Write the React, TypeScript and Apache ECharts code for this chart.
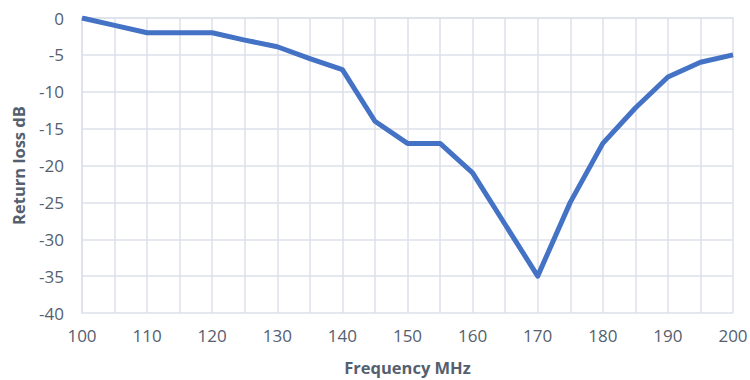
import React, { useEffect, useRef } from "react";
import * as echarts from "echarts";

const frequencies = [100, 105, 110, 115, 120, 125, 130, 135, 140, 145, 150, 155, 160, 165, 170, 175, 180, 185, 190, 195, 200];
const returnLoss = [0, -1, -2, -2, -2, -3, -3.9, -5.5, -7, -14, -17, -17, -21, -28, -35, -25, -17, -12.2, -8, -6, -5];

const xTitle = "Frequency MHz";
const yTitle = "Return loss dB";

export default function App() {
  const ref = useRef<HTMLDivElement>(null);
  useEffect(() => {
    if (!ref.current) return;
    const chart = echarts.init(ref.current, null, { renderer: "svg" });
    const labelColor = "#55606f";
    const gridColor = "#dde1ea";
    chart.setOption({
      animation: false,
      grid: { left: 82, right: 17, top: 18, bottom: 67, outerBoundsMode: "none", containLabel: false },
      xAxis: {
        type: "value",
        min: 100,
        max: 200,
        interval: 5,
        name: xTitle,
        nameLocation: "middle",
        nameGap: 46,
        nameTextStyle: { color: labelColor, fontWeight: "bold", fontSize: 16.5, fontFamily: "Open Sans" },
        axisLine: { show: true, lineStyle: { color: gridColor, width: 1.5 } },
        axisTick: { show: false },
        axisLabel: {
          color: labelColor,
          fontSize: 17,
          fontFamily: "Open Sans",
          margin: 14,
          formatter: (v: number) => (v % 10 === 0 ? String(v) : ""),
        },
        splitLine: { show: true, lineStyle: { color: gridColor, width: 1.5 } },
      },
      yAxis: {
        type: "value",
        min: -40,
        max: 0,
        interval: 5,
        name: yTitle,
        nameLocation: "middle",
        nameGap: 55,
        nameRotate: 90,
        nameTextStyle: { color: labelColor, fontWeight: "bold", fontSize: 16.5, fontFamily: "Open Sans" },
        axisLine: { show: true, lineStyle: { color: gridColor, width: 1.5 } },
        axisTick: { show: false },
        axisLabel: { color: labelColor, fontSize: 17, fontFamily: "Open Sans", margin: 18 },
        splitLine: { show: true, lineStyle: { color: gridColor, width: 1.5 } },
      },
      series: [
        {
          type: "line",
          data: frequencies.map((f, i) => [f, returnLoss[i]]),
          showSymbol: false,
          symbol: "none",
          lineStyle: { color: "#4472c4", width: 5, join: "round" },
        },
      ],
    });
    return () => chart.dispose();
  }, []);
  return <div ref={ref} style={{ width: 750, height: 380, position: "absolute", left: 0, top: 0 }} />;
}
